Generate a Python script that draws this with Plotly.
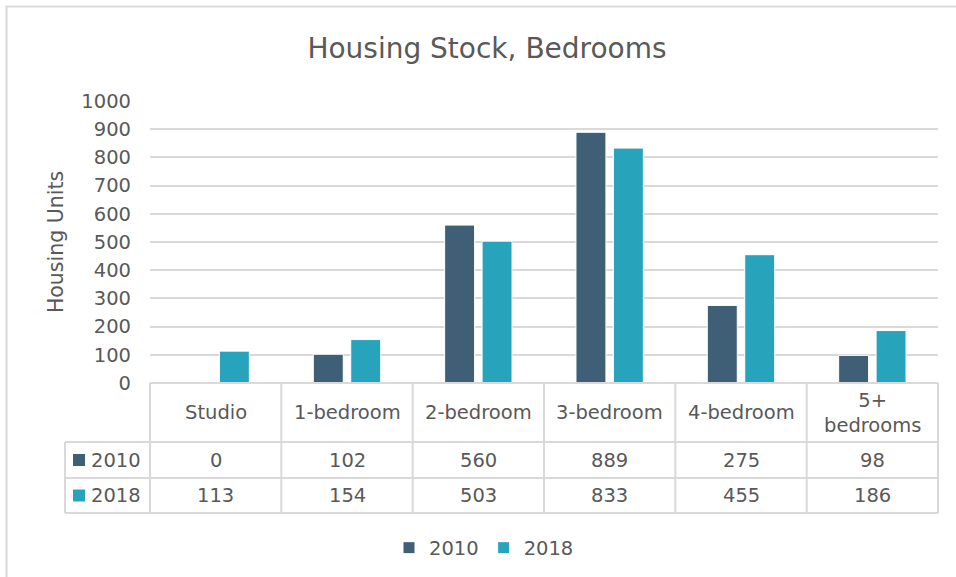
import plotly.graph_objects as go

categories = ["Studio", "1-bedroom", "2-bedroom", "3-bedroom", "4-bedroom", "5+<br>bedrooms"]
series_names = ["2010", "2018"]
values_2010 = [0, 102, 560, 889, 275, 98]
values_2018 = [113, 154, 503, 833, 455, 186]
y_ticks = [0, 100, 200, 300, 400, 500, 600, 700, 800, 900, 1000]

colors = {"2010": "#3E5F75", "2018": "#27A4BC"}
series_values = {"2010": values_2010, "2018": values_2018}

W, H = 956, 577
ML, MR, MT, MB = 150, 18, 101, 194
PW, PH = W - ML - MR, H - MT - MB
TXT = "#595959"
GRID = "#D9D9D9"
FONT = "DejaVu Sans"
FS = 19.5


def px_x(p):  # pixel -> paper x
    return (p - ML) / PW


def px_y(p):  # pixel -> paper y
    return (MT + PH - p) / PH


fig = go.Figure()
for name in series_names:
    fig.add_trace(go.Bar(
        name=name,
        x=list(range(len(categories))),
        y=series_values[name],
        marker=dict(color=colors[name], line=dict(color="white", width=1)),
    ))

shapes = []
annotations = []

# table rows (pixel boundaries)
top = MT + PH
hdr_bot = 442
r1_bot = 478
r2_bot = 513
lab_left = 65
line = dict(color=GRID, width=2)

# horizontal lines
shapes.append(dict(type="line", xref="paper", yref="paper", x0=0, x1=1,
                   y0=px_y(top), y1=px_y(top), line=line))
for yy in (hdr_bot, r1_bot, r2_bot):
    shapes.append(dict(type="line", xref="paper", yref="paper", x0=px_x(lab_left), x1=1,
                       y0=px_y(yy), y1=px_y(yy), line=line))
# vertical lines at category boundaries
n = len(categories)
for i in range(n + 1):
    if i == 0:
        xr, xv = "paper", 0
    elif i == n:
        xr, xv = "paper", 1
    else:
        xr, xv = "x", i - 0.5
    shapes.append(dict(type="line", xref=xr, yref="paper", x0=xv, x1=xv,
                       y0=px_y(top), y1=px_y(r2_bot), line=line))
shapes.append(dict(type="line", xref="paper", yref="paper", x0=px_x(lab_left), x1=px_x(lab_left),
                   y0=px_y(hdr_bot), y1=px_y(r2_bot), line=line))

# outer chart border (left and top visible)
shapes.append(dict(type="rect", xref="paper", yref="paper",
                   x0=px_x(6.5), x1=px_x(W + 20), y0=px_y(6.5), y1=px_y(H + 20),
                   line=dict(color=GRID, width=2), layer="below"))

# header texts
for i, c in enumerate(categories):
    annotations.append(dict(xref="x", yref="paper", x=i, y=px_y((top + hdr_bot) / 2),
                            text=c, showarrow=False, font=dict(family=FONT, size=FS, color=TXT),
                            xanchor="center", yanchor="middle"))
# data rows
row_bounds = [(hdr_bot, r1_bot), (r1_bot, r2_bot)]
for (name, (y0, y1)) in zip(series_names, row_bounds):
    yc = px_y((y0 + y1) / 2)
    for i, v in enumerate(series_values[name]):
        annotations.append(dict(xref="x", yref="paper", x=i, y=yc, text=str(v), showarrow=False,
                                font=dict(family=FONT, size=FS, color=TXT),
                                xanchor="center", yanchor="middle"))
    annotations.append(dict(xref="paper", yref="paper", x=px_x(89), y=yc, text=name, showarrow=False,
                            font=dict(family=FONT, size=FS, color=TXT),
                            xanchor="left", yanchor="middle"))
    shapes.append(dict(type="rect", xref="paper", yref="paper", xsizemode="pixel", ysizemode="pixel",
                       xanchor=px_x(79), yanchor=yc, x0=-6, x1=6, y0=-6, y1=6,
                       fillcolor=colors[name], line=dict(width=0)))

fig.update_layout(
    width=W, height=H,
    margin=dict(l=ML, r=MR, t=MT, b=MB, autoexpand=False),
    paper_bgcolor="white", plot_bgcolor="white",
    title=dict(text="Housing Stock, Bedrooms", x=487 / W, xanchor="center",
               y=1 - 48 / H, yanchor="middle",
               font=dict(family=FONT, size=28, color=TXT)),
    font=dict(family=FONT, size=FS, color=TXT),
    barmode="group", bargap=0.43, bargroupgap=0.2,
    xaxis=dict(range=[-0.5, n - 0.5], showticklabels=False, showgrid=False, zeroline=False,
               showline=False, ticks="", fixedrange=True),
    yaxis=dict(range=[0, 1000], tickvals=y_ticks, ticktext=[str(t) for t in y_ticks],
               showgrid=True, gridcolor=GRID, gridwidth=2, zeroline=False, showline=False,
               ticks="", ticklabelstandoff=18,
               tickfont=dict(family=FONT, size=FS, color=TXT),
               title=dict(text="Housing Units", font=dict(family=FONT, size=20.5, color=TXT), standoff=12)),
    legend=dict(orientation="h", x=px_x(484), xanchor="center", y=px_y(548), yanchor="middle",
                font=dict(family=FONT, size=FS, color=TXT), itemwidth=30, traceorder="normal",
                bgcolor="rgba(0,0,0,0)"),
    shapes=shapes,
    annotations=annotations,
)

fig.write_html("out.html", config={"displayModeBar": False},
               post_script="document.body.style.margin='0';")
